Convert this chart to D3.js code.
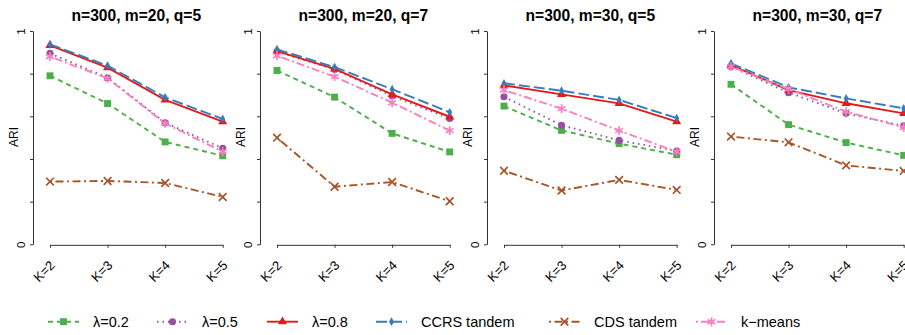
<!DOCTYPE html>
<html>
<head>
<meta charset="utf-8">
<script src="https://cdn.jsdelivr.net/npm/d3@7"></script>
<style>
html, body { margin: 0; padding: 0; background: #fff; }
svg { display: block; font-family: "Liberation Sans", Arial, Helvetica, sans-serif; }
</style>
</head>
<body>
<svg id="chart" width="905" height="335"></svg>
<script>
// ---------------- data ----------------
const kLabels = ["K=2", "K=3", "K=4", "K=5"];
const panelTitles = ["n=300, m=20, q=5", "n=300, m=20, q=7", "n=300, m=30, q=5", "n=300, m=30, q=7"];
const yTicks = [0, 0.2, 0.4, 0.6, 0.8, 1];
const yTickLabels = ["0", "", "", "", "", "1"];
const seriesNames = ["λ=0.2", "λ=0.5", "λ=0.8", "CCRS tandem", "CDS tandem", "k−means"];

// values[panel][K]
const lambda02 = [[0.79, 0.66, 0.48, 0.415], [0.815, 0.69, 0.52, 0.433], [0.648, 0.534, 0.472, 0.42], [0.75, 0.561, 0.477, 0.417]];
const lambda05 = [[0.895, 0.781, 0.57, 0.45], [0.903, 0.82, 0.695, 0.59], [0.692, 0.558, 0.4875, 0.4375], [0.833, 0.711, 0.614, 0.555]];
const lambda08 = [[0.933, 0.828, 0.677, 0.575], [0.906, 0.822, 0.703, 0.598], [0.745, 0.703, 0.661, 0.575], [0.84, 0.723, 0.661, 0.614]];
const ccrsTandem = [[0.9375, 0.8375, 0.689, 0.5875], [0.914, 0.831, 0.727, 0.619], [0.755, 0.72, 0.677, 0.592], [0.848, 0.736, 0.684, 0.6375]];
const cdsTandem = [[0.294, 0.297, 0.2875, 0.222], [0.5, 0.27, 0.292, 0.2016], [0.345, 0.252, 0.302, 0.255], [0.505, 0.478, 0.37, 0.344]];
const kmeans = [[0.88, 0.778, 0.567, 0.434], [0.884, 0.786, 0.664, 0.533], [0.723, 0.636, 0.533, 0.434], [0.833, 0.728, 0.622, 0.548]];

const seriesValues = [lambda02, lambda05, lambda08, ccrsTandem, cdsTandem, kmeans];

// ---------------- styles ----------------
const colors = ["#4DAF4A", "#984EA3", "#E41A1C", "#377EB8", "#A65628", "#F781BF"];
const dashes = ["5,4", "1.5,4", null, "11,4", "2,3.5,8,3.5", "2,3,8,3"];
const symbolTypes = [d3.symbolSquare, d3.symbolCircle, d3.symbolTriangle, d3.symbolDiamond, d3.symbolTimes, d3.symbolAsterisk];
const symbolSizes = [48, 40, 36, 22, 40, 56];
const symbolStroked = [false, false, false, false, true, true];

// ---------------- layout ----------------
const svg = d3.select("#chart");
const panelStep = 227;
const x = d3.scalePoint().domain(kLabels).range([50, 222.7]);
const y = d3.scaleLinear().domain([0, 1]).range([244.3, 31]);
const axisX0 = 33;
const axisColor = "#333";

function drawMarker(g, i, px, py) {
  const p = d3.symbol().type(symbolTypes[i]).size(symbolSizes[i])();
  const m = g.append("path").attr("d", p).attr("transform", `translate(${px},${py})`);
  if (symbolStroked[i]) {
    m.attr("fill", "none").attr("stroke", colors[i]).attr("stroke-width", 1.7);
  } else {
    m.attr("fill", colors[i]).attr("stroke", "none");
  }
}

panelTitles.forEach((title, p) => {
  const g = svg.append("g").attr("transform", `translate(${p * panelStep},0)`);

  // y axis
  const yAxis = d3.axisLeft(y).tickValues(yTicks).tickSize(3).tickSizeOuter(0)
    .tickFormat((d, i) => yTickLabels[i]);
  const ya = g.append("g").attr("transform", `translate(${axisX0},0)`).call(yAxis);
  ya.select(".domain").attr("stroke", axisColor);
  ya.selectAll(".tick line").attr("stroke", axisColor);
  ya.selectAll(".tick text")
    .attr("transform", "rotate(-90)")
    .attr("x", 0).attr("y", -8).attr("dy", 0)
    .attr("text-anchor", "middle")
    .attr("font-size", 11.5).attr("font-family", "Liberation Sans, Arial, sans-serif")
    .attr("fill", "#000");

  // x axis
  const xAxis = d3.axisBottom(x).tickSize(3).tickSizeOuter(0);
  const xa = g.append("g").attr("transform", `translate(0,244.8)`).call(xAxis);
  xa.select(".domain").attr("stroke", axisColor);
  xa.selectAll(".tick line").attr("stroke", axisColor);
  xa.selectAll(".tick text")
    .attr("transform", "translate(2,18) rotate(-45)")
    .attr("x", 0).attr("y", 0).attr("dy", "0.35em")
    .attr("text-anchor", "end")
    .attr("font-size", 13).attr("font-family", "Liberation Sans, Arial, sans-serif")
    .attr("fill", "#000");

  // title
  g.append("text")
    .attr("x", (x.range()[0] + x.range()[1]) / 2)
    .attr("y", 20.5)
    .attr("text-anchor", "middle")
    .attr("font-weight", "bold")
    .attr("font-size", 15.6)
    .text(title);

  // y label
  g.append("text")
    .attr("transform", `translate(18,137) rotate(-90)`)
    .attr("text-anchor", "middle")
    .attr("font-size", 12)
    .text("ARI");

  // series
  const line = d3.line().x((d, k) => x(kLabels[k])).y(d => y(d));
  seriesValues.forEach((vals, i) => {
    const v = vals[p];
    g.append("path")
      .attr("d", line(v))
      .attr("fill", "none")
      .attr("stroke", colors[i])
      .attr("stroke-width", 1.9)
      .attr("stroke-dasharray", dashes[i]);
    v.forEach((d, k) => drawMarker(g, i, x(kLabels[k]), y(d)));
  });
});

// legend
const legendY = 321.7;
const legendLineX = [48, 157, 267, 376, 549, 696];
const legendLineW = 31;
const legendTextDx = 45;
const lg = svg.append("g");
seriesNames.forEach((name, i) => {
  const x0 = legendLineX[i];
  lg.append("line")
    .attr("x1", x0).attr("x2", x0 + legendLineW)
    .attr("y1", legendY).attr("y2", legendY)
    .attr("stroke", colors[i]).attr("stroke-width", 1.9)
    .attr("stroke-dasharray", dashes[i]);
  drawMarker(lg, i, x0 + legendLineW / 2, legendY);
  lg.append("text")
    .attr("x", x0 + legendTextDx)
    .attr("y", legendY)
    .attr("dy", "0.35em")
    .attr("font-size", 14.5)
    .text(name);
});
</script>
</body>
</html>
